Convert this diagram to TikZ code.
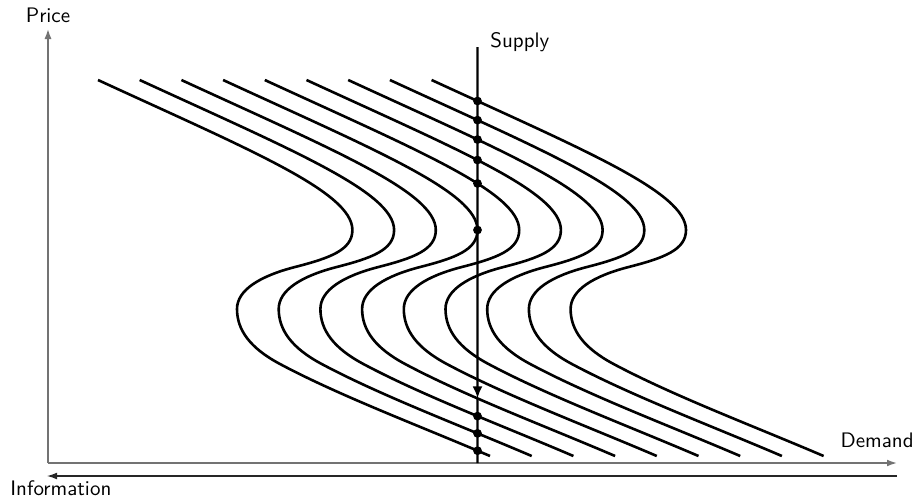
\documentclass[tikz,border=0pt]{standalone}
\usetikzlibrary{arrows.meta,intersections}
\begin{document}
\begin{tikzpicture}[x=0.5pt,y=-0.5pt,
  curve/.style={line width=1.3pt,black},
  supplyline/.style={line width=1.2pt,black},
  axisline/.style={line width=0.75pt,black!55},
  infoline/.style={line width=0.6pt,black!85},
  dot/.style={circle,fill=black,inner sep=0pt,minimum size=4.4pt},
  lbl/.style={font=\sffamily\fontsize{10.5}{12.6}\selectfont,inner sep=0pt}]
\useasboundingbox (0,0) rectangle (920,500);
% axes
\coordinate (O) at (48,463);
\coordinate (ytop) at (48,29);
\coordinate (xend) at (897,463);
\coordinate (infoR) at (897,476);
\coordinate (infoL) at (47,476);
\draw[axisline,-{Latex[length=5pt,width=3.6pt]}] (O) -- (ytop);
\draw[axisline,-{Latex[length=5pt,width=3.4pt]}] (O) -- (xend);
\draw[infoline,-{Latex[length=5pt,width=3.4pt]}] (infoR) -- (infoL);
\node[lbl,anchor=base] (price) at (48,22) {Price};
\node[lbl,anchor=base east] (demand) at (914,447) {Demand};
\node[lbl,anchor=base west] (info) at (10,495) {Information};
% curves
\foreach \k in {0,...,8}{
  \draw[curve,shift={(\k*41.7,0)},name path global=c\k]
    (98,80) .. controls (250,150) and (352.4,192) .. (352.4,230)
    .. controls (352.4,250) and (330,258) .. (295,267)
    .. controls (260,276) and (237,290) .. (237,309)
    .. controls (237,330) and (250,348) .. (280,364)
    .. controls (340,396) and (420,426) .. (490,456);
}
% supply
\coordinate (stop) at (477.5,47);
\coordinate (sbot) at (477.5,463);
\path[name path=supup] (477.5,40) -- (477.5,215);
\path[name path=suplow] (477.5,300) -- (477.5,470);
\path[name intersections={of=c3 and suplow,by=jump}];
\draw[supplyline,-{Latex[length=6pt,width=5pt]}] (stop) -- (jump);
\draw[supplyline] (jump) -- (sbot);
\node[lbl,anchor=base west] (supply) at (490,47) {Supply};
% equilibrium dots
\path[name intersections={of=c0 and suplow,by=e0}];
\path[name intersections={of=c1 and suplow,by=e1}];
\path[name intersections={of=c2 and suplow,by=e2}];
\coordinate (e3) at (477.5,230);
\path[name intersections={of=c4 and supup,by=e4}];
\path[name intersections={of=c5 and supup,by=e5}];
\path[name intersections={of=c6 and supup,by=e6}];
\path[name intersections={of=c7 and supup,by=e7}];
\path[name intersections={of=c8 and supup,by=e8}];
\foreach \k in {0,...,8}{ \node[dot] (d\k) at (e\k) {}; }
\end{tikzpicture}
\end{document}
